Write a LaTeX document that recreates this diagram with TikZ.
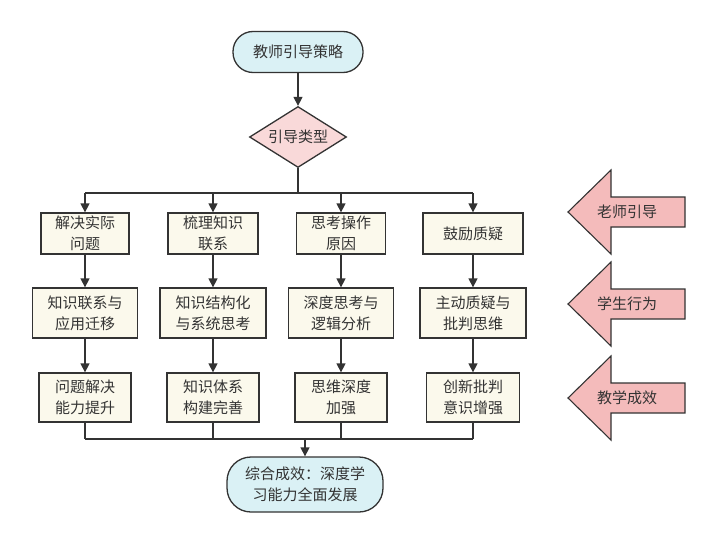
\documentclass[tikz,border=0pt]{standalone}
\usepackage{fontspec}
\setmainfont{Noto Sans CJK SC}
\usetikzlibrary{arrows.meta,shapes.geometric,calc}
\definecolor{cyanfill}{HTML}{DAF1F5}
\definecolor{diafill}{HTML}{F9D9D9}
\definecolor{boxfill}{HTML}{FBF9EC}
\definecolor{arrfill}{HTML}{F4BBBB}
\definecolor{edge}{HTML}{333333}
\definecolor{txt}{HTML}{333333}
\tikzset{
  every node/.style={font=\fontsize{15}{21}\selectfont, text=txt},
  term/.style={draw=edge, line width=1.3pt, fill=cyanfill, rounded corners=20pt, align=center, inner sep=0pt},
  dia/.style={diamond, draw=edge, line width=1.3pt, fill=diafill, aspect=1.6, inner sep=0pt, minimum width=97pt, minimum height=61pt},
  box/.style={draw=edge, line width=1.3pt, fill=boxfill, align=center, inner sep=0pt},
  conn/.style={draw=edge, line width=1.3pt},
  arr/.style={conn, -{Triangle[length=9pt,width=9pt]}},
  bigarrow/.style={draw=edge, line width=1.1pt, fill=arrfill, line join=miter},
}
\begin{document}
\begin{tikzpicture}[x=1pt,y=-1pt]
\useasboundingbox (0,0) rectangle (717,543);
% top
\node[term, minimum width=130pt, minimum height=41pt] (start) at (298,52) {教师引导策略};
\node[dia] (type) at (298,137) {引导类型};
% row 1
\node[box, minimum width=88pt, minimum height=41pt] (a1) at (85,233.5) {解决实际\\问题};
\node[box, minimum width=90pt, minimum height=41pt] (b1) at (213,233.5) {梳理知识\\联系};
\node[box, minimum width=89pt, minimum height=41pt] (c1) at (341,233.5) {思考操作\\原因};
\node[box, minimum width=100pt, minimum height=41pt] (d1) at (473,233.5) {鼓励质疑};
% row 2
\node[box, minimum width=105pt, minimum height=50pt] (a2) at (85,313) {知识联系与\\应用迁移};
\node[box, minimum width=106pt, minimum height=50pt] (b2) at (213,313) {知识结构化\\与系统思考};
\node[box, minimum width=105pt, minimum height=50pt] (c2) at (341,313) {深度思考与\\逻辑分析};
\node[box, minimum width=106pt, minimum height=50pt] (d2) at (473,313) {主动质疑与\\批判思维};
% row 3
\node[box, minimum width=92pt, minimum height=49pt] (a3) at (85,397.5) {问题解决\\能力提升};
\node[box, minimum width=92pt, minimum height=49pt] (b3) at (213,397.5) {知识体系\\构建完善};
\node[box, minimum width=92pt, minimum height=49pt] (c3) at (341,397.5) {思维深度\\加强};
\node[box, minimum width=93pt, minimum height=49pt] (d3) at (473,397.5) {创新批判\\意识增强};
% bottom
\node[term, minimum width=156pt, minimum height=55pt, rounded corners=24pt] (end) at (305,484.5) {综合成效：深度学\\习能力全面发展};
% connectors
\draw[arr] (start) -- (type);
\coordinate (split) at (298,193);
\coordinate (merge) at (305,439);
\draw[conn] (type.south) -- (split);
\draw[conn] (a1.north |- split) -- (d1.north |- split);
\foreach \n in {a1,b1,c1,d1} \draw[arr] (\n.north |- split) -- (\n.north);
\draw[arr] (a1) -- (a2);
\draw[arr] (b1) -- (b2);
\draw[arr] (c1) -- (c2);
\draw[arr] (d1) -- (d2);
\draw[arr] (a2) -- (a3);
\draw[arr] (b2) -- (b3);
\draw[arr] (c2) -- (c3);
\draw[arr] (d2) -- (d3);
\foreach \n in {a3,b3,c3,d3} \draw[conn] (\n.south) -- (\n.south |- merge);
\draw[conn] (a3.south |- merge) -- (d3.south |- merge);
\draw[arr] (merge) -- (end.north);
% side arrows
\foreach \yc/\lab/\nm in {212/老师引导/s1, 304/学生行为/s2, 398/教学成效/s3}{
  \draw[bigarrow] (568,\yc) -- (611,\yc-42) -- (611,\yc-15) -- (685,\yc-15) -- (685,\yc+15) -- (611,\yc+15) -- (611,\yc+42) -- cycle;
  \node (\nm) at (627,\yc) {\lab};
}
\end{tikzpicture}
\end{document}
